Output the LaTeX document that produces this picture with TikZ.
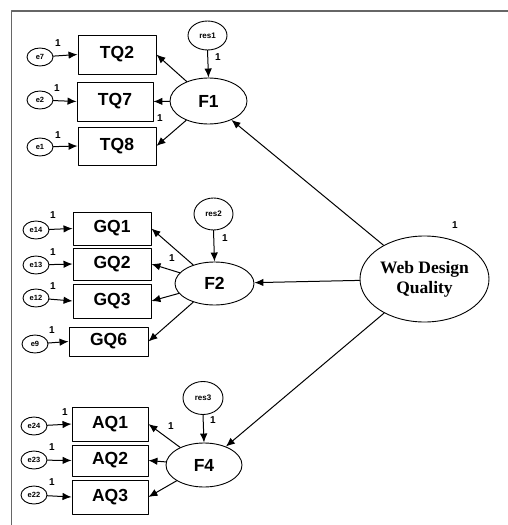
\documentclass[tikz,border=0pt]{standalone}
\usepackage{fontspec}
\setmainfont{Liberation Serif}
\setsansfont{Liberation Sans}
\usepackage{tikz}
\usetikzlibrary{arrows.meta}
\usetikzlibrary{shapes.geometric}

\tikzset{
  obs/.style={draw, rectangle, line width=0.9pt, inner sep=0pt, font=\sffamily\bfseries\fontsize{17.5}{17.5}\selectfont},
  err/.style={draw, ellipse, line width=0.9pt, inner sep=0pt, minimum width=26pt, minimum height=18pt, font=\sffamily\bfseries\fontsize{7.5}{7.5}\selectfont},
  res/.style={draw, ellipse, line width=0.9pt, inner sep=0pt, font=\sffamily\bfseries\fontsize{8}{8}\selectfont},
  lat/.style={draw, ellipse, line width=0.9pt, inner sep=0pt, font=\sffamily\bfseries\fontsize{17.5}{17.5}\selectfont},
  one/.style={font=\sffamily\bfseries\fontsize{10}{10}\selectfont, inner sep=0pt}
}

\begin{document}
\begin{tikzpicture}[line cap=round,line join=round,>={Latex[length=9pt,width=7.5pt]},x=1pt,y=-1pt,line width=1pt]
\useasboundingbox (0,0) rectangle (508,525);
%kehys
\draw[color=gray!80!black, line width=1.8pt] (11.5,525) -- (11.5,11) -- (508,11);

%F1 ja mittarit
\node[obs, minimum width=78pt, minimum height=39pt] (TQ2) at (117,54.5) {TQ2};
\node[obs, minimum width=76pt, minimum height=39pt] (TQ7) at (115,101.5) {TQ7};
\node[obs, minimum width=78pt, minimum height=38pt] (TQ8) at (117,146) {TQ8};
\node[err] (e7) at (40,57) {e7};
\node[err] (e2) at (40,100) {e2};
\node[err] (e1) at (40,147) {e1};
\node[lat, minimum width=77pt, minimum height=46pt] (F1) at (208.5,101) {F1};
\node[res, minimum width=39pt, minimum height=29pt] (res1) at (207.5,35.5) {res1};

%F2 ja mittarit
\node[obs, minimum width=78pt, minimum height=33pt] (GQ1) at (112,228.5) {GQ1};
\node[obs, minimum width=78pt, minimum height=32pt] (GQ2) at (112,264) {GQ2};
\node[obs, minimum width=78pt, minimum height=34pt] (GQ3) at (112,301) {GQ3};
\node[obs, minimum width=79pt, minimum height=29pt] (GQ6) at (108.5,341.5) {GQ6};
\node[err] (e14) at (36,230) {e14};
\node[err] (e13) at (36,265) {e13};
\node[err] (e12) at (36,298) {e12};
\node[err] (e9) at (35,344) {e9};
\node[lat, minimum width=79pt, minimum height=43pt] (F2) at (214.5,283.5) {F2};
\node[res, minimum width=39pt, minimum height=32pt] (res2) at (213.5,214) {res2};

%F4 ja mittarit
\node[obs, minimum width=76pt, minimum height=34pt] (AQ1) at (110,424) {AQ1};
\node[obs, minimum width=76pt, minimum height=31pt] (AQ2) at (110,460.5) {AQ2};
\node[obs, minimum width=76pt, minimum height=34pt] (AQ3) at (110,497) {AQ3};
\node[err] (e24) at (34,426) {e24};
\node[err] (e23) at (34,460) {e23};
\node[err] (e22) at (34,495) {e22};
\node[lat, minimum width=76pt, minimum height=44pt] (F4) at (204,465) {F4};
\node[res, minimum width=40pt, minimum height=33pt] (res3) at (203,398) {res3};

%paafaktori
\node[lat, minimum width=129pt, minimum height=86pt, align=center,
  font=\rmfamily\bfseries\fontsize{17.5}{20}\selectfont] (WDQ) at (424.5,279) {Web Design\\Quality};

%nuolet
\foreach \e/\b in {e7/TQ2,e2/TQ7,e1/TQ8,e14/GQ1,e13/GQ2,e12/GQ3,e9/GQ6,e24/AQ1,e23/AQ2,e22/AQ3}
{
\draw[->] (\e) -- (\b.west);
}
\foreach \f/\b in {F1/TQ2,F1/TQ7,F1/TQ8,F2/GQ1,F2/GQ2,F2/GQ3,F2/GQ6,F4/AQ1,F4/AQ2,F4/AQ3}
{
\draw[->] (\f) -- (\b.east);
}
\draw[->] (res1.south) -- (F1.north);
\draw[->] (res2.south) -- (F2.north);
\draw[->] (res3.south) -- (F4.north);
\draw[->] (WDQ) -- (F1);
\draw[->] (WDQ) -- (F2);
\draw[->] (WDQ) -- (F4);

%ykkoset
\node[one] (o1) at (58,43) {1};
\node[one] (o2) at (57,88) {1};
\node[one] (o3) at (58,135) {1};
\node[one] (o4) at (218,57) {1};
\node[one] (o5) at (160,118) {1};
\node[one] (o6) at (53,215) {1};
\node[one] (o7) at (53,252) {1};
\node[one] (o8) at (53,286) {1};
\node[one] (o9) at (52,330) {1};
\node[one] (o10) at (225,238) {1};
\node[one] (o11) at (172,258) {1};
\node[one] (o12) at (65,412) {1};
\node[one] (o13) at (52,447) {1};
\node[one] (o14) at (52,482) {1};
\node[one] (o15) at (171,426) {1};
\node[one] (o16) at (213,420) {1};
\node[one] (o17) at (455,225) {1};
\end{tikzpicture}
\end{document}
